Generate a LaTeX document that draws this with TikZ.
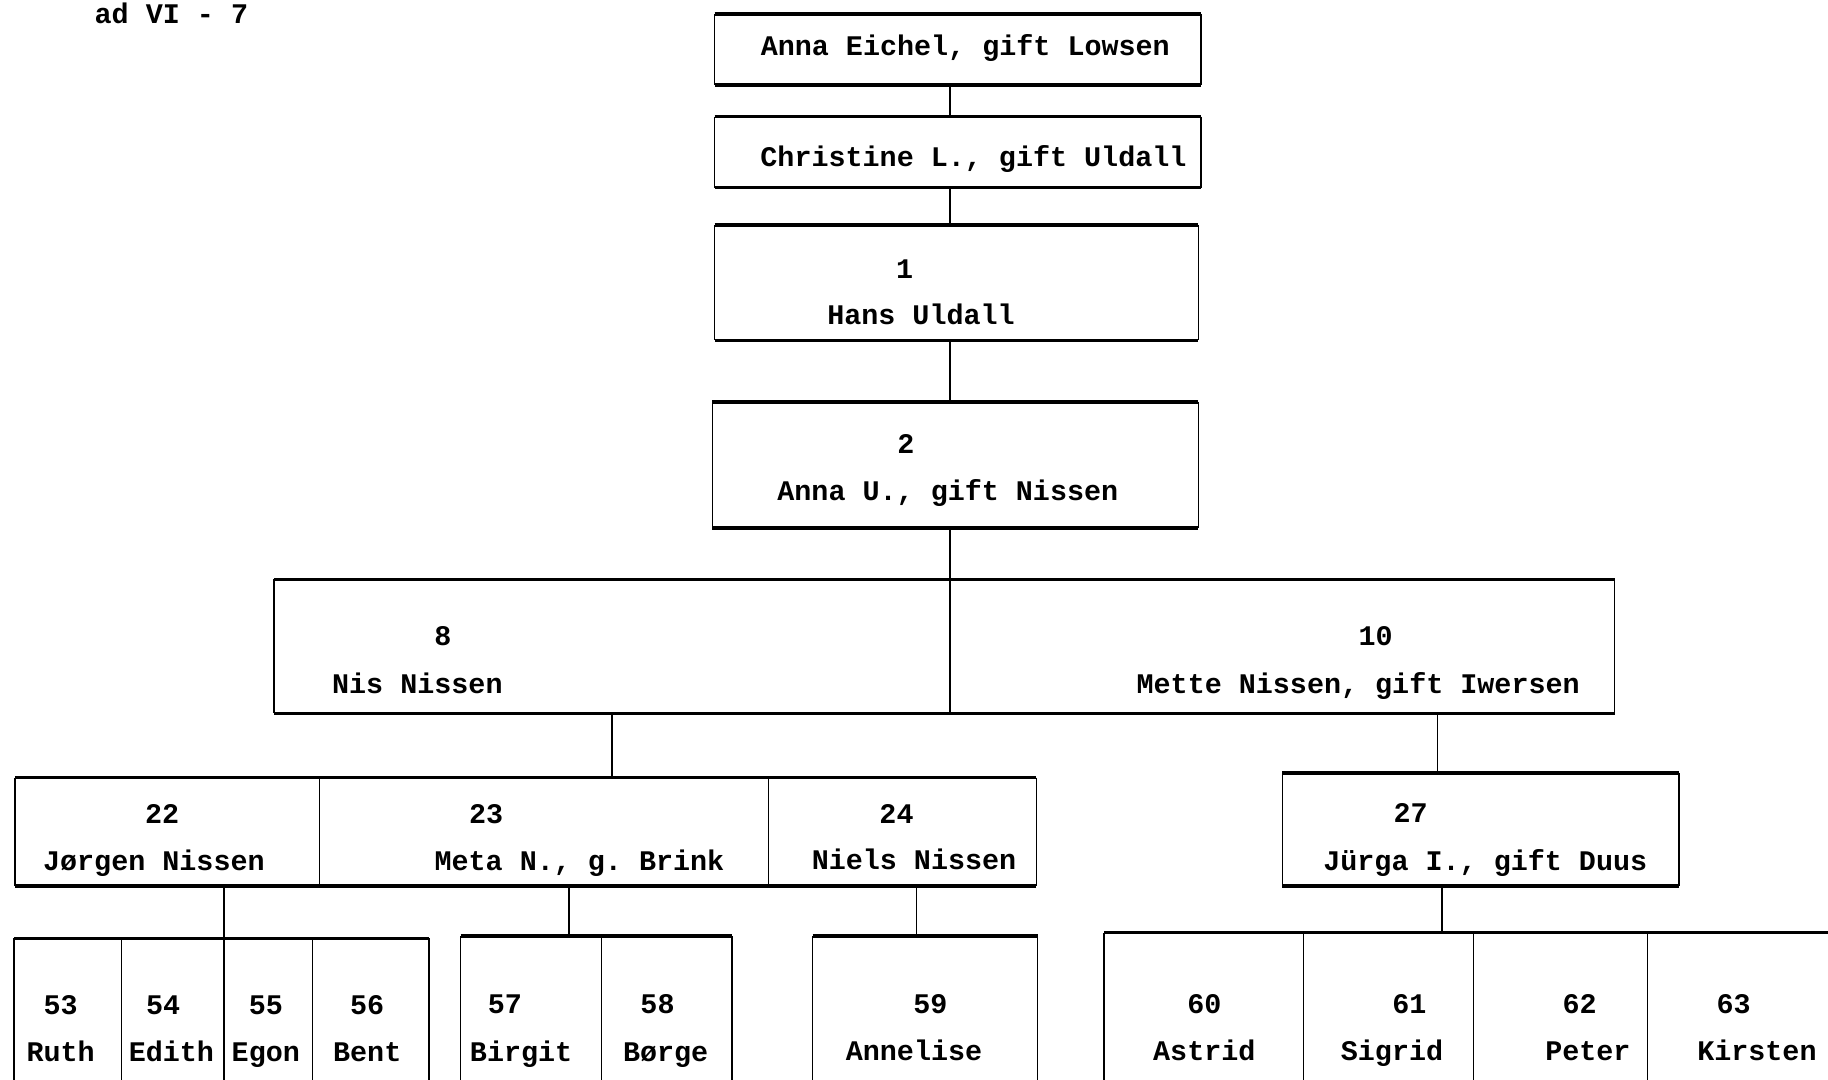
\documentclass[tikz,border=0pt]{standalone}
\usepackage{fontspec}
\setmonofont{Liberation Mono}
\usetikzlibrary{fit}
\tikzset{fig/.style={x=0.5829pt,y=-0.5829pt,line join=round},
  cell/.style={inner sep=0pt,outer sep=0pt},
  hrule/.style={line width=1.8pt},
  vrule/.style={line width=0.7pt},
  link/.style={line width=0.8pt},
  txt/.style={font=\ttfamily\bfseries\fontsize{14.2}{16}\selectfont,inner sep=0pt,text height=10pt,text depth=0pt}}

\begin{document}
\begin{tikzpicture}[fig]
  \useasboundingbox(0,0)rectangle(1568,926);
  \node[txt](head)at(147,12){ad VI - 7};
  % boxes: name/left/top/right/bottom
  \foreach \n/\xa/\ya/\xb/\yb in {a/613/12/1030/73,b/613/100/1030/161,c/613/193/1028/292,d/611/345/1028/453,
    e8/235/497/815/612,e10/815/497/1385/612,
    f22/13/667/274/760,f23/274/667/659/760,f24/659/667/889/760,g27/1100/663/1440/760,
    h53/12/805/104/940,h54/104/805/192/940,h55/192/805/268/940,h56/268/805/368/940,
    i57/395/803/516/940,i58/516/803/628/940,j59/697/803/890/940,
    k60/947/800/1118/940,k61/1118/800/1264/940,k62/1264/800/1413/940,k63/1413/800/1600/940}{
    \node[cell,fit={(\xa,\ya)(\xb,\yb)}](\n){};
    \draw[hrule](\n.north west)--(\n.north east)(\n.south west)--(\n.south east);
    \draw[vrule](\n.north west)--(\n.south west)(\n.north east)--(\n.south east);}
  % lines of descent
  \coordinate(axis)at(815,0);\coordinate(t8)at(525,0);\coordinate(t10)at(1233,0);
  \coordinate(t23)at(488,0);\coordinate(t24)at(786,0);\coordinate(t27)at(1237,0);
  \draw[link](a.south-|axis)--(b.north-|axis);
  \draw[link](b.south-|axis)--(c.north-|axis);
  \draw[link](c.south-|axis)--(d.north-|axis);
  \draw[link](d.south-|axis)--(e8.north east);
  \draw[link](e8.south-|t8)--(f23.north-|t8);
  \draw[link](e10.south-|t10)--(g27.north-|t10);
  \draw[link](f22.south-|h55.north west)--(h55.north west);
  \draw[link](f23.south-|t23)--(i57.north-|t23);
  \draw[link](f24.south-|t24)--(j59.north-|t24);
  \draw[link](g27.south-|t27)--(k61.north-|t27);
  % numbers
  \foreach \x/\y/\t in {776/230/1,777/380/2,380/545/8,1180/545/10,139/698/22,417/698/23,769/698/24,1210/697/27,
    52/862/53,140/862/54,228/862/55,315/862/56,433/861/57,564/861/58,798/861/59,
    1033/861/60,1209/861/61,1355/861/62,1487/861/63}
    \node[txt](n\t)at(\x,\y){\t};
  % names
  \foreach \x/\y/\t [count=\i] in {828/39/{Anna Eichel, gift Lowsen},835/134/{Christine L., gift Uldall},
    790/270/Hans Uldall,813/421/{Anna U., gift Nissen},358/586/Nis Nissen,1165/586/{Mette Nissen, gift Iwersen},
    132/738/Jørgen Nissen,497/738/{Meta N., g. Brink},784/737/Niels Nissen,1274/738/{Jürga I., gift Duus},
    52/902/Ruth,147/902/Edith,228/902/Egon,315/902/Bent,447/902/Birgit,571/902/Børge,784/901/Annelise,
    1033/901/Astrid,1194/901/Sigrid,1362/901/Peter,1507/901/Kirsten}
    \node[txt](w\i)at(\x,\y){\t};
\end{tikzpicture}
\end{document}
